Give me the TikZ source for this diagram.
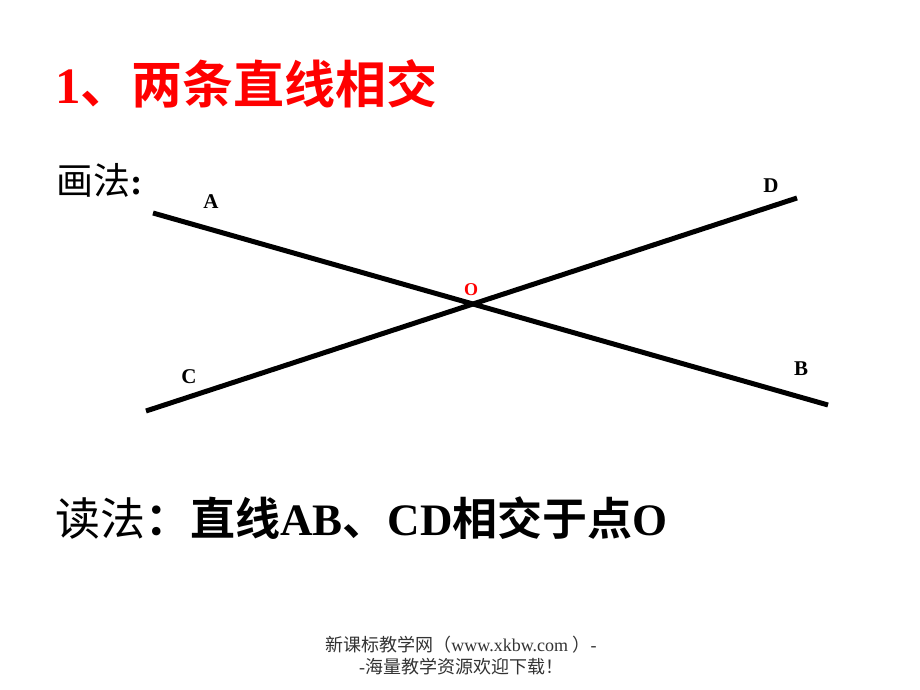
\documentclass[tikz,border=0pt]{standalone}
\usepackage{fontspec}
\setmainfont{Liberation Serif}
\newfontfamily\cjk{Noto Sans CJK SC}[BoldFont=* Bold]
\definecolor{titlered}{RGB}{255,0,0}
\tikzset{
  lineseg/.style={line width=5pt, black},
  ptlabel/.style={font=\fontsize{21}{21}\selectfont\bfseries, inner sep=0pt},
  foot/.style={font=\fontsize{18}{18}\selectfont, text=black!80, inner sep=0pt}
}
\begin{document}
\begin{tikzpicture}[x=1pt,y=-1pt]
\useasboundingbox[fill=white] (0,0) rectangle (920,690);
% title
\node[anchor=west, inner sep=0pt, text=titlered, font=\fontsize{51}{51}\selectfont\bfseries] (title) at (55,84)
  {1{\cjk 、两条直线相交}};
\node[anchor=west, inner sep=0pt, font=\fontsize{37}{37}\selectfont] (draw) at (56,180) {{\cjk 画法}\textbf{:}};
% lines
\coordinate (A) at (153,213);
\coordinate (B) at (828,405);
\coordinate (C) at (146,411);
\coordinate (D) at (797,198);
\draw[lineseg] (A) -- (B);
\draw[lineseg] (C) -- (D);
\node[ptlabel] (lA) at (211,202) {A};
\node[ptlabel] (lD) at (771,186) {D};
\node[ptlabel, text=titlered, font=\fontsize{18}{18}\selectfont\bfseries] (lO) at (471,290) {O};
\node[ptlabel] (lC) at (189,377) {C};
\node[ptlabel] (lB) at (801,369) {B};
% reading
\node[anchor=west, inner sep=0pt, font=\fontsize{45}{45}\selectfont\bfseries] (read) at (55,518)
  {{\cjk\mdseries 读法}{\cjk ：直线}AB{\cjk 、}CD{\cjk 相交于点}O};
% footer
\node[foot] (f1) at (461,645) {{\cjk 新课标教学网（}www.xkbw.com {\cjk ）}-};
\node[foot] (f2) at (461,667) {-{\cjk 海量教学资源欢迎下载！}};
\end{tikzpicture}
\end{document}
